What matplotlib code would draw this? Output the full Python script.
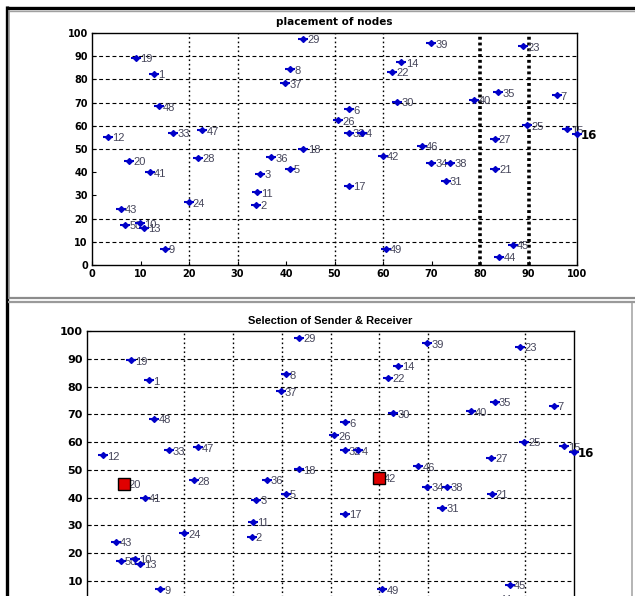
import numpy as np
import matplotlib
matplotlib.use("Agg")
import matplotlib.pyplot as plt
from matplotlib.lines import Line2D

# node ids and positions in the 100 x 100 field
node_id = [1, 2, 3, 4, 5, 6, 7, 8, 9, 10,
           11, 12, 13, 14, 15, 16, 17, 18, 19, 20,
           21, 22, 23, 24, 25, 26, 27, 28, 29, 30,
           31, 32, 33, 34, 35, 36, 37, 38, 39, 40,
           41, 42, 43, 44, 45, 46, 47, 48, 49, 50]
node_x = [12.8, 33.8, 34.7, 55.6, 40.8, 53.0, 95.8, 40.8, 15.0, 9.9,
          34.0, 3.2, 10.8, 63.8, 98.0, 100.0, 53.0, 43.6, 9.0, 7.7,
          83.1, 61.9, 88.9, 19.9, 89.7, 50.8, 83.0, 21.9, 43.6, 62.9,
          72.9, 52.9, 16.8, 69.9, 83.7, 36.9, 39.8, 73.9, 69.9, 78.8,
          11.9, 60.0, 5.9, 84.0, 86.8, 68.0, 22.7, 13.8, 60.6, 6.9]
node_y = [82.3, 25.9, 39.3, 57.0, 41.4, 67.1, 73.1, 84.4, 7.0, 17.9,
          31.3, 55.2, 16.1, 87.4, 58.5, 56.5, 34.2, 50.2, 89.4, 45.0,
          41.4, 83.2, 94.3, 27.1, 60.2, 62.4, 54.3, 46.3, 97.5, 70.3,
          36.3, 57.0, 57.0, 44.0, 74.5, 46.4, 78.3, 44.0, 95.6, 71.1,
          40.0, 47.1, 24.1, 3.5, 8.7, 51.3, 58.1, 68.4, 7.0, 17.2]

sender = 20
receiver = 42

ticks = np.arange(0, 101, 10)
top_hgrid = [10, 20, 50, 60, 70, 80, 90]
top_vgrid = [20, 30, 50, 60]
top_vgrid_thick = [80, 90]
bot_hgrid = [10, 20, 30, 40, 50, 60, 70, 80, 90]
bot_vgrid = [20, 30, 40, 50, 60, 70, 90]

W, H = 635, 596
fig = plt.figure(figsize=(W / 100, H / 100), dpi=100)
fig.patch.set_facecolor("white")


def px_box(left, top, right, bottom):
    return [left / W, 1 - bottom / H, (right - left) / W, (bottom - top) / H]


def draw_nodes(ax):
    for n, x, y in zip(node_id, node_x, node_y):
        ax.plot(x, y, marker="_", ms=7, mew=1.5, color="#0000c8", clip_on=False, zorder=4)
        ax.plot(x, y, marker="D", ms=3.0, color="#0000c8", mec="#0000c8", clip_on=False, zorder=4)
        if n == 16:
            ax.annotate(str(n), (x, y), xytext=(3, -1), textcoords="offset points",
                        fontsize=8.5, fontweight="bold", color="black",
                        family="DejaVu Sans", va="center", ha="left")
        else:
            ax.annotate(str(n), (x, y), xytext=(3, -1), textcoords="offset points",
                        fontsize=8, color="#45455a", family="Liberation Sans",
                        va="center", ha="left")


def style_axes(ax, fs):
    ax.set_xlim(0, 100)
    ax.set_ylim(0, 100)
    ax.set_xticks(ticks)
    ax.set_yticks(ticks)
    ax.tick_params(direction="in", length=3, width=0.8, labelsize=fs, pad=3)
    for lab in ax.get_xticklabels() + ax.get_yticklabels():
        lab.set_fontweight("bold")
        lab.set_family("DejaVu Sans")
    for sp in ax.spines.values():
        sp.set_linewidth(1.0)
        sp.set_color("black")


# top panel: placement of nodes
ax1 = fig.add_axes(px_box(92, 33, 577, 265))
style_axes(ax1, 7)
for g in top_hgrid:
    ax1.axhline(g, color="black", lw=0.8, ls=(0, (3.5, 2.5)), zorder=1)
for g in top_vgrid:
    ax1.axvline(g, color="black", lw=1.0, ls=(0, (1.2, 2)), zorder=1)
for g in top_vgrid_thick:
    ax1.axvline(g, color="black", lw=2.6, ls=(0, (0.8, 0.8)), zorder=1)
draw_nodes(ax1)
ax1.set_title("placement of nodes", fontsize=7.5, fontweight="bold", pad=6,
              family="DejaVu Sans")

# bottom panel: sender and receiver selection (x labels fall below the window)
ax2 = fig.add_axes(px_box(87, 331, 574, 608.7))
style_axes(ax2, 8)
ax2.tick_params(axis="x", labelbottom=False)
for g in bot_hgrid:
    ax2.axhline(g, color="black", lw=0.8, ls=(0, (3.5, 2.5)), zorder=1)
for g in bot_vgrid:
    ax2.axvline(g, color="black", lw=1.0, ls=(0, (1.2, 2)), zorder=1)
draw_nodes(ax2)
for n in (sender, receiver):
    i = node_id.index(n)
    ax2.plot(node_x[i], node_y[i], marker="s", ms=8, color="#e00000",
             mec="black", mew=1.0, zorder=5)
ax2.set_title("Selection of Sender & Receiver", fontsize=8, fontweight="bold",
              pad=5, family="Liberation Sans")


# window frames
def fig_line(x0, y0, x1, y1, color, lw):
    fig.add_artist(Line2D([x0 / W, x1 / W], [1 - y0 / H, 1 - y1 / H],
                          color=color, lw=lw, transform=fig.transFigure,
                          solid_capstyle="butt"))


fig_line(6, 7.5, 635, 7.5, "black", 2.4)
fig_line(9, 10.5, 635, 10.5, "#a0a0a0", 1.0)
fig_line(6.5, 6, 6.5, 596, "black", 2.4)
fig_line(9, 10, 9, 297, "#a0a0a0", 1.2)
fig_line(8, 297.8, 635, 297.8, "#8c8c8c", 1.6)
fig_line(8, 301.5, 635, 301.5, "#9a9a9a", 1.6)
fig_line(631.5, 303, 631.5, 596, "#a8a8a8", 1.2)

fig.savefig("out.png", dpi=100, facecolor="white")
